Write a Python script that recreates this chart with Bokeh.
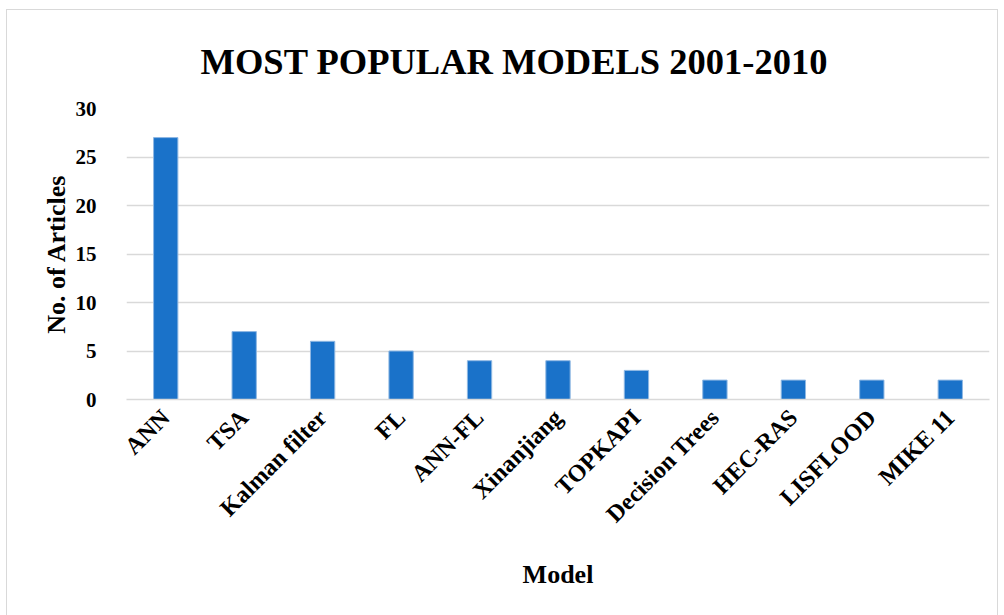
import math
from bokeh.plotting import figure
from bokeh.models import Title, ColumnDataSource
from bokeh.embed import file_html
from bokeh.resources import INLINE

models = ["ANN", "TSA", "Kalman filter", "FL", "ANN-FL", "Xinanjiang", "TOPKAPI",
          "Decision Trees", "HEC-RAS", "LISFLOOD", "MIKE 11"]
articles = [27, 7, 6, 5, 4, 4, 3, 2, 2, 2, 2]
y_ticks = [0, 5, 10, 15, 20, 25, 30]
title_text = "MOST POPULAR MODELS 2001-2010"

FONT = "Liberation Serif"

src = ColumnDataSource(dict(model=models, n=articles))

p = figure(x_range=models, y_range=(0, 30), frame_width=863, frame_height=291,
           output_backend="svg", toolbar_location=None,
           min_border_left=119, min_border_right=8, min_border_top=98, min_border_bottom=221,
           background_fill_color="white", border_fill_color="white")
p.styles = {"margin-left": "6px", "margin-top": "9px", "border": "1.5px solid #d9d9d9"}
p.outline_line_color = None

p.vbar(x="model", top="n", width=0.31, source=src, fill_color="#1a72c9",
       line_color="#8fb8e3", line_width=1)

p.title = Title(text=title_text, align="left", offset=74,
                text_font=FONT, text_font_size="36.5px", text_font_style="bold",
                text_color="black", standoff=54)

p.xgrid.grid_line_color = None
p.ygrid.grid_line_color = "#d9d9d9"
p.ygrid.grid_line_width = 1.5

p.yaxis.ticker = y_ticks
p.yaxis.axis_line_color = None
p.yaxis.major_tick_line_color = None
p.yaxis.minor_tick_line_color = None
p.yaxis.major_label_standoff = 24
p.yaxis.major_label_text_font = FONT
p.yaxis.major_label_text_font_size = "21px"
p.yaxis.major_label_text_font_style = "bold"
p.yaxis.major_label_text_color = "black"
p.yaxis.axis_label = "No. of Articles"
p.yaxis.axis_label_text_font = FONT
p.yaxis.axis_label_text_font_size = "26px"
p.yaxis.axis_label_text_font_style = "bold"
p.yaxis.axis_label_text_color = "black"
p.yaxis.axis_label_standoff = 2

p.xaxis.axis_line_color = "#d9d9d9"
p.xaxis.axis_line_width = 1.5
p.xaxis.major_tick_line_color = None
p.xaxis.minor_tick_line_color = None
p.xaxis.major_label_orientation = math.pi / 4
p.xaxis.major_label_standoff = 8
p.xaxis.major_label_text_font = FONT
p.xaxis.major_label_text_font_size = "24px"
p.xaxis.major_label_text_font_style = "bold"
p.xaxis.major_label_text_color = "black"
p.xaxis.axis_label = "Model"
p.xaxis.axis_label_text_font = FONT
p.xaxis.axis_label_text_font_size = "26px"
p.xaxis.axis_label_text_font_style = "bold"
p.xaxis.axis_label_text_color = "black"
p.xaxis.axis_label_standoff = 21

open("out.html", "w").write(file_html(p, INLINE))
